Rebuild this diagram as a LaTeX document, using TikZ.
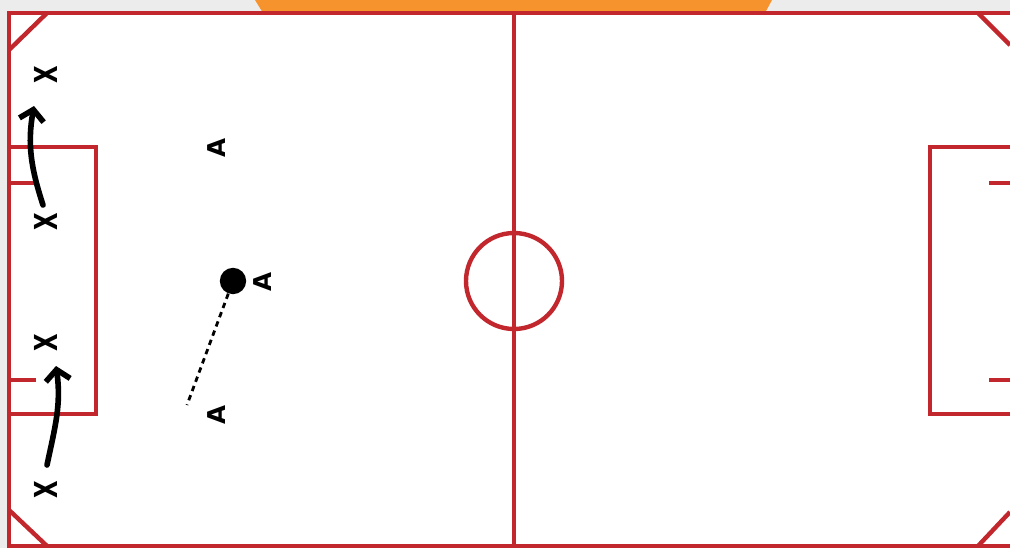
\documentclass[tikz,border=0pt]{standalone}
\usepackage{fontspec}
\setmainfont{DejaVu Sans}
\usetikzlibrary{arrows.meta, positioning}

\definecolor{pitchred}{HTML}{C1272D}
\definecolor{bggray}{HTML}{ECECEC}
\definecolor{orangetab}{HTML}{F7932D}

\begin{document}
\begin{tikzpicture}[
        x=0.02cm, y=0.02cm,
        line/.style={draw=pitchred, line width=2.5pt},
        player/.style={font=\bfseries\fontsize{14}{14}\selectfont, rotate=90, inner sep=0pt},
        xplayer/.style={font=\bfseries\fontsize{18}{18}\selectfont, rotate=90, inner sep=0pt},
        run/.style={line width=3.2pt, line cap=round, -{Straight Barb[length=6pt, width=14pt, line width=3.2pt]}},
        pass/.style={line width=1.6pt, dash pattern=on 3.1pt off 2.5pt}
    ]
    \useasboundingbox (0,0) rectangle (1010,-548);
    \fill[bggray] (0,0) rectangle (1010,-548);
    \fill[orangetab] (255,0) -- (263,-13) -- (765,-13) -- (772,0) -- cycle;
    \fill[white] (9,-13) rectangle (1010,-546);

    % pitch
    \draw[line] (1010,-13) -- (9,-13) -- (9,-546) -- (1010,-546);
    \draw[line] (514,-13) -- (514,-546);
    \draw[line] (514,-281) circle (48);
    \draw[line] (9,-147) -- (96,-147) -- (96,-414) -- (9,-414);
    \draw[line] (1010,-147) -- (930,-147) -- (930,-414) -- (1010,-414);
    \draw[line] (9,-183) -- (36,-183);
    \draw[line] (9,-380) -- (36,-380);
    \draw[line] (989,-183) -- (1010,-183);
    \draw[line] (989,-380) -- (1010,-380);
    \draw[line] (9,-50) -- (47,-13);
    \draw[line] (9,-510) -- (47,-546);
    \draw[line] (978,-13) -- (1010,-45);
    \draw[line] (978,-546) -- (1010,-512);

    % players
    \node[xplayer] (x1) at (46,-75) {\scalebox{0.72}[1]{X}};
    \node[xplayer] (x2) at (46,-222) {\scalebox{0.72}[1]{X}};
    \node[xplayer] (x3) at (46,-343) {\scalebox{0.72}[1]{X}};
    \node[xplayer] (x4) at (46,-490) {\scalebox{0.72}[1]{X}};
    \node[player] (a1) at (217,-148) {A};
    \node[player] (a2) at (263,-282) {A};
    \node[player] (a3) at (217,-415) {A};
    \node[circle, fill=black, inner sep=0pt, minimum size=15] (ball) at (233,-281) {};

    \coordinate (r1s) at (43,-205);
    \coordinate (r1e) at (34,-106);
    \coordinate (r2s) at (47,-465);
    \coordinate (r2e) at (56,-366);
    \coordinate (passend) at (187,-405);

    \draw[run] (r1s) to[out=108, in=-100] (r1e);
    \draw[run] (r2s) to[out=78, in=-82] (r2e);
    \draw[pass] (ball) -- (passend);
\end{tikzpicture}
\end{document}
